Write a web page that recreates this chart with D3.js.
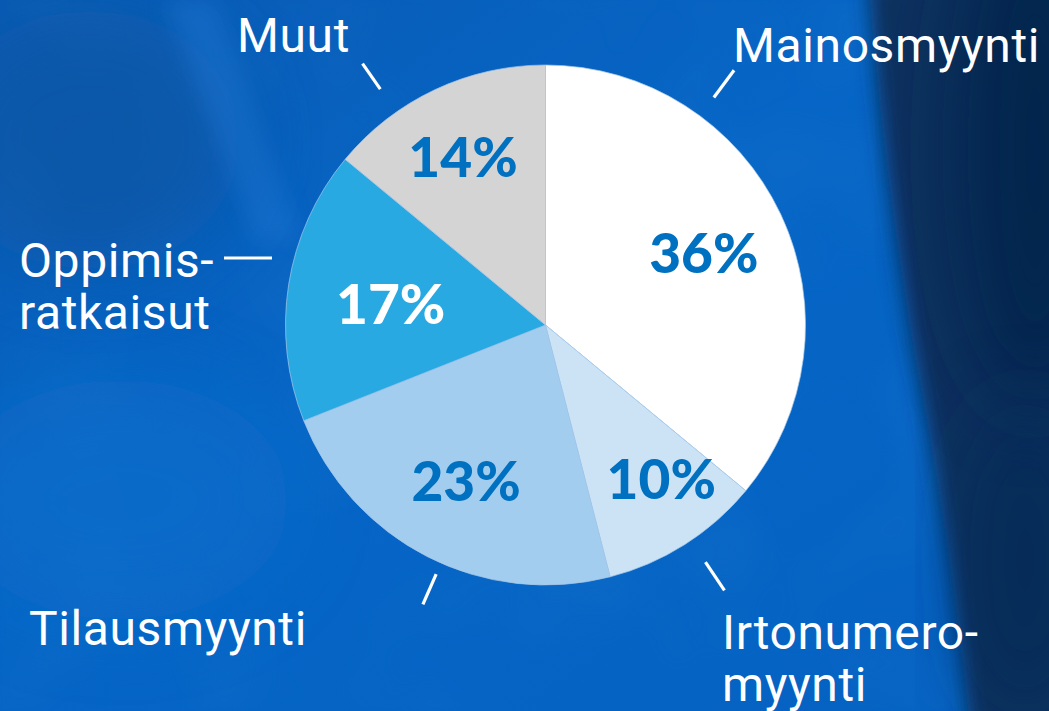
<!DOCTYPE html>
<html>
<head>
<meta charset="utf-8">
<script src="https://cdn.jsdelivr.net/npm/d3@7"></script>
<style>
  html, body { margin: 0; padding: 0; background: #0664c4; overflow: hidden; }
  svg { display: block; }
</style>
</head>
<body>
<svg id="chart" width="1049" height="711"></svg>
<script>
// ---- data ----
const categories = ["Mainosmyynti", "Irtonumeromyynti", "Tilausmyynti", "Oppimisratkaisut", "Muut"];
const values = [36, 10, 23, 17, 14];
const valueLabels = ["36%", "10%", "23%", "17%", "14%"];
const nameLines = [["Mainosmyynti"], ["Irtonumero-", "myynti"], ["Tilausmyynti"], ["Oppimis-", "ratkaisut"], ["Muut"]];
const sliceColors = ["#ffffff", "#cce3f5", "#a2cdee", "#29a9e1", "#d4d4d4"];
const valueColors = ["#0070c0", "#0070c0", "#0070c0", "#ffffff", "#0070c0"];

// ---- layout ----
const W = 1049, H = 711;
const cx = 545.5, cy = 325, R = 260;
const svg = d3.select("#chart");
const defs = svg.append("defs");

// background
const lg = defs.append("linearGradient").attr("id", "bgGrad").attr("x1", 0).attr("y1", 0).attr("x2", 1).attr("y2", 1);
lg.append("stop").attr("offset", "0%").attr("stop-color", "#0a5bb4");
lg.append("stop").attr("offset", "45%").attr("stop-color", "#0665c6");
lg.append("stop").attr("offset", "100%").attr("stop-color", "#0562c2");
const blur = defs.append("filter").attr("id", "blur").attr("x", "-20%").attr("y", "-20%").attr("width", "140%").attr("height", "140%");
blur.append("feGaussianBlur").attr("stdDeviation", 10);
const blurBig = defs.append("filter").attr("id", "blurBig").attr("x", "-50%").attr("y", "-50%").attr("width", "200%").attr("height", "200%");
blurBig.append("feGaussianBlur").attr("stdDeviation", 40);
const noise = defs.append("filter").attr("id", "noise").attr("x", 0).attr("y", 0).attr("width", "100%").attr("height", "100%");
noise.append("feTurbulence").attr("type", "fractalNoise").attr("baseFrequency", 0.008).attr("numOctaves", 2).attr("seed", 7).attr("result", "t");
noise.append("feColorMatrix").attr("type", "matrix")
  .attr("values", "0 0 0 0 0.05  0 0 0 0 0.32  0 0 0 0 0.68  0 0 0 1.0 -0.4");
noise.append("feGaussianBlur").attr("stdDeviation", 4);

const bg = svg.append("g");
bg.append("rect").attr("width", W).attr("height", H).attr("fill", "url(#bgGrad)");
bg.append("rect").attr("width", W).attr("height", H).attr("filter", "url(#noise)").attr("opacity", 0.18);
bg.append("ellipse").attr("cx", 90).attr("cy", 140).attr("rx", 150).attr("ry", 130)
  .attr("fill", "#09539f").attr("opacity", 0.6).attr("filter", "url(#blurBig)");
bg.append("path").attr("d", "M165,0 L215,0 L300,240 L255,240 Z")
  .attr("fill", "#1a74d0").attr("opacity", 0.45).attr("filter", "url(#blur)");
bg.append("ellipse").attr("cx", 120).attr("cy", 500).attr("rx", 170).attr("ry", 120)
  .attr("fill", "#0b6dca").attr("opacity", 0.7).attr("filter", "url(#blurBig)");
// dark right fold
bg.append("path").attr("d", "M868,-20 C878,120 898,260 915,360 C935,460 955,590 970,731 L1080,731 L1080,-20 Z")
  .attr("fill", "#07315f").attr("filter", "url(#blur)");
bg.append("ellipse").attr("cx", 1035).attr("cy", 150).attr("rx", 80).attr("ry", 260)
  .attr("fill", "#04214a").attr("opacity", 0.8).attr("filter", "url(#blurBig)");
bg.append("ellipse").attr("cx", 1025).attr("cy", 560).attr("rx", 55).attr("ry", 160)
  .attr("fill", "#052852").attr("opacity", 0.6).attr("filter", "url(#blurBig)");

// ---- pie ----
const pie = d3.pie().sort(null).value(d => d).startAngle(0).endAngle(2 * Math.PI);
const arcs = pie(values);
const arc = d3.arc().innerRadius(0).outerRadius(R);
const g = svg.append("g").attr("transform", `translate(${cx},${cy})`);

g.selectAll("path.slice").data(arcs).enter().append("path")
  .attr("class", "slice")
  .attr("d", arc)
  .attr("fill", (d, i) => sliceColors[i])
  .attr("stroke", "#a8c9ea")
  .attr("stroke-width", 0.7);

// value labels (centroid-based with small nudges)
const labelArc = d3.arc().innerRadius(175).outerRadius(175);
const nudges = [[0, 2], [22, 6], [0, 0], [18, 6], [-8, -10]];
g.selectAll("text.val").data(arcs).enter().append("text")
  .attr("class", "val")
  .attr("x", (d, i) => labelArc.centroid(d)[0] + nudges[i][0])
  .attr("y", (d, i) => labelArc.centroid(d)[1] + nudges[i][1] + 20)
  .attr("text-anchor", "middle")
  .attr("font-family", "Lato, 'Open Sans', sans-serif")
  .attr("font-weight", 900)
  .attr("font-size", 55)
  .attr("fill", (d, i) => valueColors[i])
  .text((d, i) => valueLabels[i]);

// ---- leader lines ----
function polar(deg, r) {
  const a = deg * Math.PI / 180;
  return [cx + r * Math.sin(a), cy - r * Math.cos(a)];
}
const leaders = [
  { ang: 36.5, r1: 283, r2: 317 },
  { ang: 146, r1: 286, r2: 320 },
  { ang: 203.7, r1: 272, r2: 305 },
  null,
  { ang: 325, r1: 288, r2: 319 }
];
const lg2 = svg.append("g").attr("stroke", "#ffffff").attr("stroke-width", 3.2).attr("stroke-linecap", "butt");
leaders.forEach(l => {
  if (!l) return;
  const p1 = polar(l.ang, l.r1), p2 = polar(l.ang, l.r2);
  lg2.append("line").attr("x1", p1[0]).attr("y1", p1[1]).attr("x2", p2[0]).attr("y2", p2[1]);
});
lg2.append("line").attr("x1", 224).attr("y1", 258).attr("x2", 272).attr("y2", 258);

// ---- category labels ----
const namePos = [
  { x: 1040, y: 62, anchor: "end" },
  { x: 722, y: 649, anchor: "start" },
  { x: 29, y: 645, anchor: "start" },
  { x: 19, y: 277, anchor: "start" },
  { x: 237, y: 52, anchor: "start" }
];
const lineGap = 52;
nameLines.forEach((lines, i) => {
  const t = svg.append("text")
    .attr("x", namePos[i].x).attr("y", namePos[i].y)
    .attr("text-anchor", namePos[i].anchor)
    .attr("font-family", "Roboto, 'Open Sans', sans-serif")
    .attr("font-size", 48)
    .attr("letter-spacing", 0.6)
    .attr("fill", "#ffffff");
  lines.forEach((ln, j) => {
    t.append("tspan").attr("x", namePos[i].x).attr("dy", j === 0 ? 0 : lineGap).text(ln);
  });
});
</script>
</body>
</html>
